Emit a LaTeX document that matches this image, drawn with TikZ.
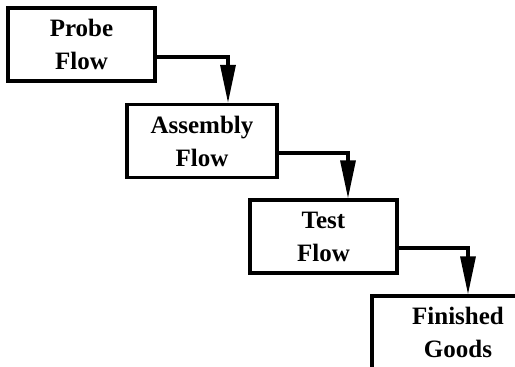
\documentclass[tikz,border=0pt]{standalone}
\usepackage{fontspec}
\usetikzlibrary{arrows.meta}
\newfontfamily\flowfont{Liberation Serif Bold}
\tikzset{
  flowbox/.style={draw, line width=3.2pt, minimum width=147pt, minimum height=73pt,
    align=center, inner sep=0pt,
    font=\flowfont\fontsize{25}{33}\selectfont},
  flowline/.style={line width=3.2pt, -{Triangle[length=38pt,width=15pt]}}
}
\begin{document}
\begin{tikzpicture}[x=1pt,y=-1pt]
      \useasboundingbox (0,0) rectangle (515,367);
      \clip (0,0) rectangle (515,367);
      \draw
        (81.5,44.5) node[flowbox] (probe){Probe\\Flow}
        (202,141) node[flowbox, minimum width=150pt] (assembly){Assembly\\Flow}
        (323.5,236.5) node[flowbox] (test){Test\\Flow}
        (458,332.5) node[flowbox, minimum width=172pt] (goods){Finished\\Goods};
      \begin{scope}[flowline]
        \draw ([yshift=-12.5pt]probe.east) -| ([xshift=26pt]assembly.north);
        \draw ([yshift=-12pt]assembly.east) -| ([xshift=24.5pt]test.north);
        \draw ([yshift=-11.5pt]test.east) -| ([xshift=10pt]goods.north);
      \end{scope}
    \end{tikzpicture}
\end{document}
